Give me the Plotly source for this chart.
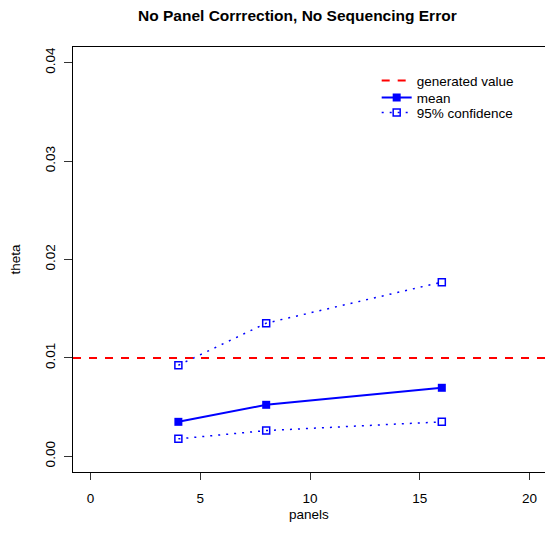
import plotly.graph_objects as go

# Simulation summary: estimated theta by number of panels
panels = [4, 8, 16]
theta_mean = [0.00350, 0.00523, 0.00696]
theta_lower = [0.00177, 0.00261, 0.00350]
theta_upper = [0.00925, 0.01353, 0.01770]
generated_value = 0.01

x_ticks = [0, 5, 10, 15, 20]
y_ticks = [0.00, 0.01, 0.02, 0.03, 0.04]
y_tick_text = ["0.00", "0.01", "0.02", "0.03", "0.04"]

FONT = "Liberation Sans, Arial, Helvetica, sans-serif"
BLUE = "#0000FF"

fig = go.Figure()

# legend-only entry for the reference line (the line itself is a shape)
fig.add_trace(go.Scatter(
    x=[None], y=[None], mode="lines", name="generated value",
    legend="legend",
    line=dict(color="#FF0000", width=2, dash="8px,8px"),
))

fig.add_trace(go.Scatter(
    x=panels, y=theta_mean, mode="lines+markers", name="mean",
    legend="legend2",
    line=dict(color=BLUE, width=2),
    marker=dict(symbol="square", size=8, color=BLUE),
))

fig.add_trace(go.Scatter(
    x=panels, y=theta_upper, mode="lines+markers", name="95% confidence",
    legend="legend3", legendgroup="ci",
    line=dict(color=BLUE, width=1.5, dash="2px,6px"),
    marker=dict(symbol="square-open", size=7, color=BLUE, line=dict(width=1.5)),
))
fig.add_trace(go.Scatter(
    x=panels, y=theta_lower, mode="lines+markers", name="95% confidence",
    legend="legend3", legendgroup="ci", showlegend=False,
    line=dict(color=BLUE, width=1.5, dash="2px,6px"),
    marker=dict(symbol="square-open", size=7, color=BLUE, line=dict(width=1.5)),
))

fig.add_hline(y=generated_value, line=dict(color="#FF0000", width=2, dash="8px,8px"))

legend_common = dict(
    xanchor="left", yanchor="top", bgcolor="rgba(0,0,0,0)",
    borderwidth=0, font=dict(size=13.5),
)

fig.update_layout(
    width=545, height=548,
    margin=dict(l=73, r=0, t=47, b=76),
    paper_bgcolor="white", plot_bgcolor="white",
    font=dict(family=FONT, size=13.5, color="black"),
    showlegend=True,
    legend=dict(x=0.6434, y=0.9574, **legend_common),
    legend2=dict(x=0.6434, y=0.9174, **legend_common),
    legend3=dict(x=0.6434, y=0.8821, **legend_common),
    xaxis=dict(
        range=[-0.8, 20.7], tickvals=x_ticks, ticks="outside", ticklen=7,
        tickcolor="#333", showgrid=False, zeroline=False,
        showline=True, linecolor="black", linewidth=1, mirror=True,
        ticklabelstandoff=7,
    ),
    yaxis=dict(
        range=[-0.0016, 0.0416], tickvals=y_ticks, ticktext=y_tick_text,
        tickangle=-90, ticks="outside", ticklen=8, tickcolor="#333",
        showgrid=False, zeroline=False,
        showline=True, linecolor="black", linewidth=1, mirror=False,
        ticklabelstandoff=4,
    ),
    annotations=[
        dict(text="<b>No Panel Corrrection, No Sequencing Error</b>",
             xref="paper", yref="paper", x=0, y=1,
             xshift=297.5 - 73, yshift=31.5,
             xanchor="center", yanchor="middle", showarrow=False,
             font=dict(size=15.5)),
        dict(text="panels", xref="paper", yref="paper", x=0.5, y=0,
             yshift=-42, xanchor="center", yanchor="middle", showarrow=False),
        dict(text="theta", xref="paper", yref="paper", x=0, y=0.5,
             xshift=-58, xanchor="center", yanchor="middle", textangle=-90,
             showarrow=False),
    ],
)

fig.write_html("out.html")
